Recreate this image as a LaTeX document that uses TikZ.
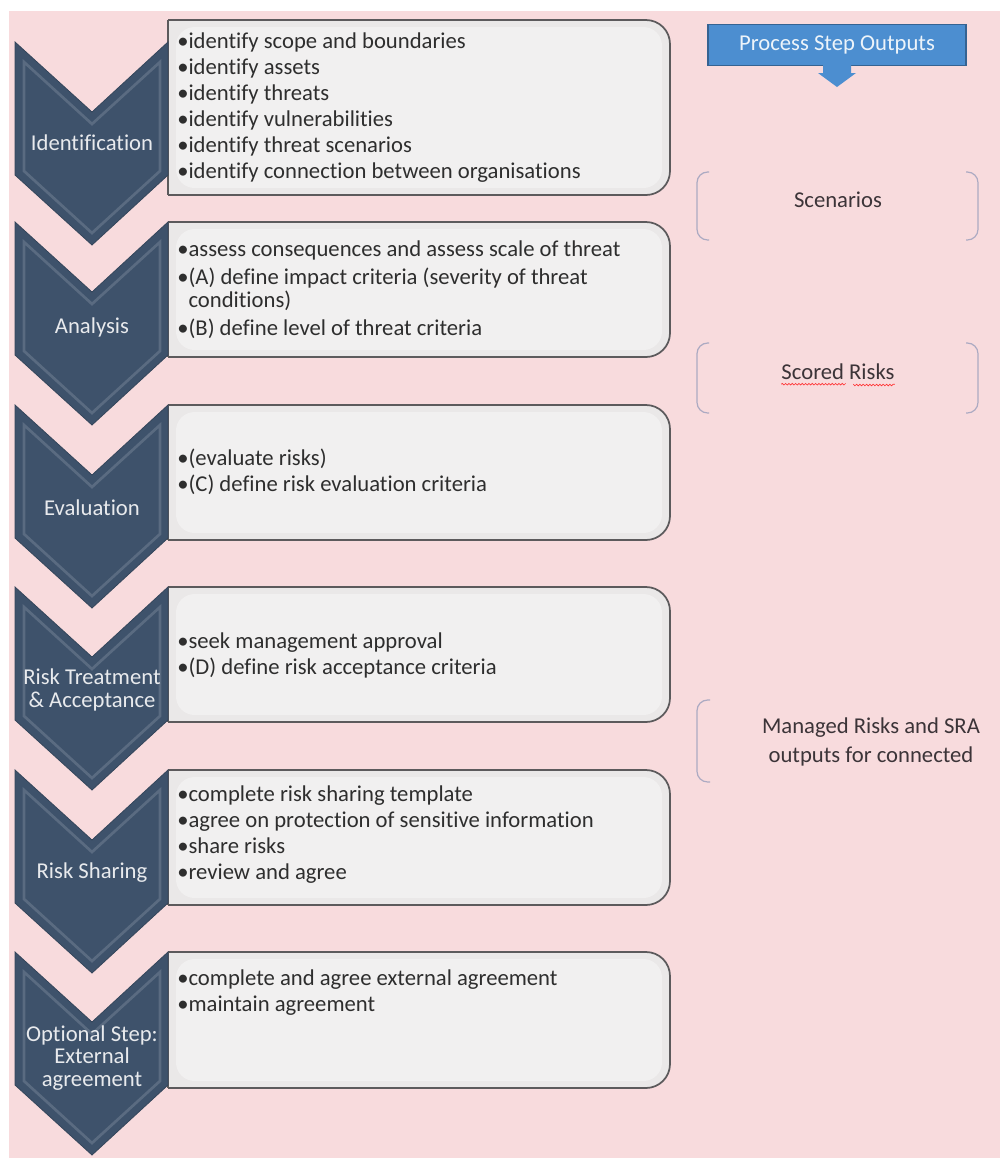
\documentclass[tikz,border=0pt]{standalone}
\usepackage{fontspec}
\setmainfont{Carlito}[Ligatures=NoCommon]
\usetikzlibrary{decorations.pathmorphing}

\definecolor{pinkbg}{RGB}{248,219,221}
\definecolor{chevfill}{RGB}{62,82,107}
\definecolor{boxfill}{RGB}{234,232,232}
\definecolor{boxline}{RGB}{92,90,92}
\definecolor{outblue}{RGB}{76,142,208}
\definecolor{bracketgray}{RGB}{172,170,194}
\definecolor{outtext}{RGB}{60,52,56}

\begin{document}
\begin{tikzpicture}[x=0.75pt,y=-0.75pt,
	chevron/.style={fill=chevfill,draw=chevfill!85!black,line width=0.6pt},
	bevel/.style={draw=white,opacity=0.15,line width=2pt},
	box/.style={fill=boxfill,draw=boxline,line width=1.3pt},
	step label/.style={text=white!88!chevfill,inner sep=0pt,align=center,font=\fontsize{17}{17}\selectfont},
	item list/.style={anchor=west,inner sep=0pt,text=black!82,align=left,font=\fontsize{17}{19.5}\selectfont},
	output/.style={inner sep=0pt,text=outtext,align=center,font=\fontsize{17}{21.5}\selectfont},
	bracket/.style={draw=bracketgray,line width=0.9pt,rounded corners=8pt}]

\useasboundingbox (0,0) rectangle (1000,1158);
\fill[pinkbg] (9,11) rectangle (1000,1158);

% step boxes
\foreach \t/\b in {20/195,222/357,405/540,587/722,770/905,952/1088}{
	\draw[box] (168,\t) [rounded corners=18pt] -- (670,\t) -- (670,\b) -- (168,\b);
	\draw[box,fill=none] (168,\t) -- (168,\b);
	\fill[white,opacity=0.35,rounded corners=14pt] (176,\t+7) -- (662,\t+7) -- (662,\b-7) -- (176,\b-7) -- cycle;
}

% chevrons
\foreach \t in {42,222,405,587,770,952}{
	\draw[chevron] (15,\t) -- (92,\t+70) -- (168,\t) -- (168,\t+133) -- (92,\t+203) -- (15,\t+133) -- cycle;
	\draw[bevel] (24,\t+20) -- (92,\t+82) -- (160,\t+20) -- (160,\t+129) -- (92,\t+191) -- (24,\t+129) -- cycle;
}

\node[step label] (ident) at (92,143) {Identification};
\node[step label] (anal) at (92,327) {Analysis};
\node[step label] (evalu) at (92,508) {Evaluation};
\node[step label] (treat) at (92,690) {Risk Treatment\\\& Acceptance};
\node[step label] (share) at (92,873) {Risk Sharing};
\node[step label] (extern) at (92,1058) {Optional Step:\\External\\agreement};

\node[item list] (identlist) at (177,108) {•identify scope and boundaries\\•identify assets\\•identify threats\\•identify vulnerabilities\\•identify threat scenarios\\•identify connection between organisations};
\node[item list] (anallist) at (177,290) {•assess consequences and assess scale of threat\\[1.5pt]•(A) define impact criteria (severity of threat\\[-2.25pt]\phantom{•}conditions)\\[1.5pt]•(B) define level of threat criteria};
\node[item list] (evalulist) at (177,472) {•(evaluate risks)\\•(C) define risk evaluation criteria};
\node[item list] (treatlist) at (177,655) {•seek management approval\\•(D) define risk acceptance criteria};
\node[item list] (sharelist) at (177,835) {•complete risk sharing template\\•agree on protection of sensitive information\\•share risks\\•review and agree};
\node[item list] (externlist) at (177,993) {•complete and agree external agreement\\•maintain agreement};

% outputs column
\node[fill=outblue,draw=outblue!70!black,line width=0.8pt,minimum width=193.5pt,minimum height=30.75pt,
	text=white!90!outblue,font=\fontsize{17}{19.5}\selectfont] (outputs) at (837,45) {Process Step Outputs};
\fill[outblue] (823,65) -- (823,73) -- (818,73) -- (837,87) -- (856,73) -- (851,73) -- (851,65) -- cycle;

\draw[bracket] (709,172) -- (697,172) -- (697,240) -- (709,240);
\draw[bracket] (966,172) -- (978,172) -- (978,240) -- (966,240);
\node[output] (scen) at (838,200) {Scenarios};

\draw[bracket] (709,343) -- (697,343) -- (697,413) -- (709,413);
\draw[bracket] (966,343) -- (978,343) -- (978,413) -- (966,413);
\node[output] (scored) at (838,372) {Scored Risks};
\draw[red!80,line width=0.5pt,decorate,decoration={snake,amplitude=0.6pt,segment length=2.5pt}]
	([yshift=-3pt]scored.south west) -- ([yshift=-3pt,xshift=48pt]scored.south west)
	([yshift=-3pt,xshift=54pt]scored.south west) -- ([yshift=-3pt]scored.south east);

\draw[bracket] (710,700) -- (697,700) -- (697,782) -- (710,782);
\node[output] (managed) at (871,742) {Managed Risks and SRA\\outputs for connected};
\end{tikzpicture}
\end{document}
